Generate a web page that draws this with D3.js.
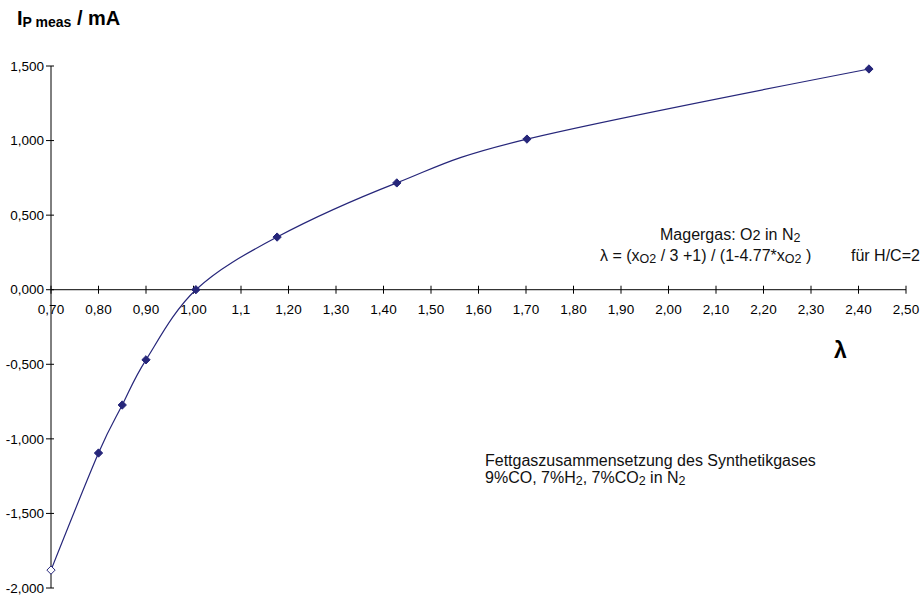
<!DOCTYPE html>
<html>
<head>
<meta charset="utf-8">
<script src="https://cdn.jsdelivr.net/npm/d3@7"></script>
<style>
  body { margin: 0; background: #fff; }
  svg { font-family: "Liberation Sans", Arial, sans-serif; }
</style>
</head>
<body>
<svg id="chart" width="923" height="598"></svg>
<script>
// Data
const lambdaValues = [0.70, 0.80, 0.85, 0.90, 1.005, 1.176, 1.428, 1.702, 2.422];
const currentValues = [-1.88, -1.095, -0.773, -0.47, 0.0, 0.353, 0.716, 1.01, 1.48];
const xTicks = [0.7, 0.8, 0.9, 1.0, 1.1, 1.2, 1.3, 1.4, 1.5, 1.6, 1.7, 1.8, 1.9, 2.0, 2.1, 2.2, 2.3, 2.4, 2.5];
const xTickLabels = ["0,70", "0,80", "0,90", "1,00", "1,1", "1,20", "1,30", "1,40", "1,50", "1,60",
                     "1,70", "1,80", "1,90", "2,00", "2,10", "2,20", "2,30", "2,40", "2,50"];
const yTicks = [-2.0, -1.5, -1.0, -0.5, 0.0, 0.5, 1.0, 1.5];

const points = lambdaValues.map((x, i) => ({ x, y: currentValues[i] }));

const svg = d3.select('#chart');
const lineColor = '#26267a';

const x = d3.scaleLinear().domain([0.7, 2.5]).range([51, 906]);
const y = d3.scaleLinear().domain([-2.0, 1.5]).range([588, 66]);

// Y axis
const yAxis = svg.append('g').attr('transform', `translate(${x(0.7)},0)`);
yAxis.append('line')
    .attr('y1', y(1.5)).attr('y2', y(-2.0))
    .attr('stroke', '#000').attr('stroke-width', 1);
yAxis.selectAll('line.tick').data(yTicks).enter().append('line')
    .attr('class', 'tick')
    .attr('x1', -5).attr('x2', 3)
    .attr('y1', d => y(d)).attr('y2', d => y(d))
    .attr('stroke', '#000');
yAxis.selectAll('text').data(yTicks).enter().append('text')
    .attr('x', -7)
    .attr('y', d => y(d))
    .attr('dy', '0.35em')
    .attr('text-anchor', 'end')
    .attr('font-size', 13.5)
    .text(d => d3.format('.3f')(d).replace('.', ',').replace('−', '-'));

// X axis (at y = 0)
const xAxis = svg.append('g').attr('transform', `translate(0,${y(0)})`);
xAxis.append('line')
    .attr('x1', x(0.7)).attr('x2', x(2.5))
    .attr('stroke', '#000').attr('stroke-width', 1);
xAxis.selectAll('line.tick').data(xTicks).enter().append('line')
    .attr('class', 'tick')
    .attr('x1', d => x(d)).attr('x2', d => x(d))
    .attr('y1', -4).attr('y2', 4)
    .attr('stroke', '#000');
xAxis.selectAll('text').data(xTicks).enter().append('text')
    .attr('x', d => x(d))
    .attr('y', 24)
    .attr('text-anchor', 'middle')
    .attr('font-size', 13.5)
    .text((d, i) => xTickLabels[i]);

// Smoothed curve
const line = d3.line()
    .x(d => x(d.x))
    .y(d => y(d.y))
    .curve(d3.curveCatmullRom.alpha(0));

svg.append('path')
    .datum(points)
    .attr('d', line)
    .attr('fill', 'none')
    .attr('stroke', lineColor)
    .attr('stroke-width', 1.2);

// Diamond markers, first one hollow
const diamond = d3.symbol().type(d3.symbolDiamond2).size(44);
svg.selectAll('path.marker').data(points).enter().append('path')
    .attr('class', 'marker')
    .attr('d', diamond)
    .attr('transform', d => `translate(${x(d.x)},${y(d.y)})`)
    .attr('fill', (d, i) => i === 0 ? '#fff' : lineColor)
    .attr('stroke', lineColor)
    .attr('stroke-width', 1);

// Axis titles
const yTitle = svg.append('text')
    .attr('x', 17).attr('y', 25)
    .attr('font-size', 20).attr('font-weight', 'bold');
yTitle.append('tspan').text('I');
yTitle.append('tspan').attr('font-size', 14).attr('dy', 2).text('P meas');
yTitle.append('tspan').attr('dy', -2).text(' / mA');

svg.append('text')
    .attr('x', 834).attr('y', 358)
    .attr('font-size', 23).attr('font-weight', 'bold')
    .text('λ');

// Annotations
const ann = svg.append('g').attr('font-size', 16).attr('fill', '#111');

const t1 = ann.append('text').attr('x', 660).attr('y', 240);
t1.append('tspan').text('Magergas: O');
t1.append('tspan').attr('font-size', 14.5).text('2');
t1.append('tspan').text('   in N');
t1.append('tspan').attr('font-size', 12.5).attr('dy', 2).text('2');

const t2 = ann.append('text').attr('x', 600).attr('y', 261);
t2.append('tspan').text('λ = (x');
t2.append('tspan').attr('font-size', 12.5).attr('dy', 2).text('O2');
t2.append('tspan').attr('dy', -2).text('  / 3 +1) / (1-4.77*x');
t2.append('tspan').attr('font-size', 12.5).attr('dy', 2).text('O2');
t2.append('tspan').attr('dy', -2).text(' )');
t2.append('tspan').attr('x', 851).text('für H/C=2');

ann.append('text').attr('x', 485).attr('y', 466)
    .text('Fettgaszusammensetzung des Synthetikgases');

const t4 = ann.append('text').attr('x', 485).attr('y', 483);
t4.append('tspan').text('9%CO, 7%H');
t4.append('tspan').attr('font-size', 12.5).attr('dy', 2).text('2');
t4.append('tspan').attr('dy', -2).text(', 7%CO');
t4.append('tspan').attr('font-size', 12.5).attr('dy', 2).text('2');
t4.append('tspan').attr('dy', -2).text('  in N');
t4.append('tspan').attr('font-size', 12.5).attr('dy', 2).text('2');
</script>
</body>
</html>
